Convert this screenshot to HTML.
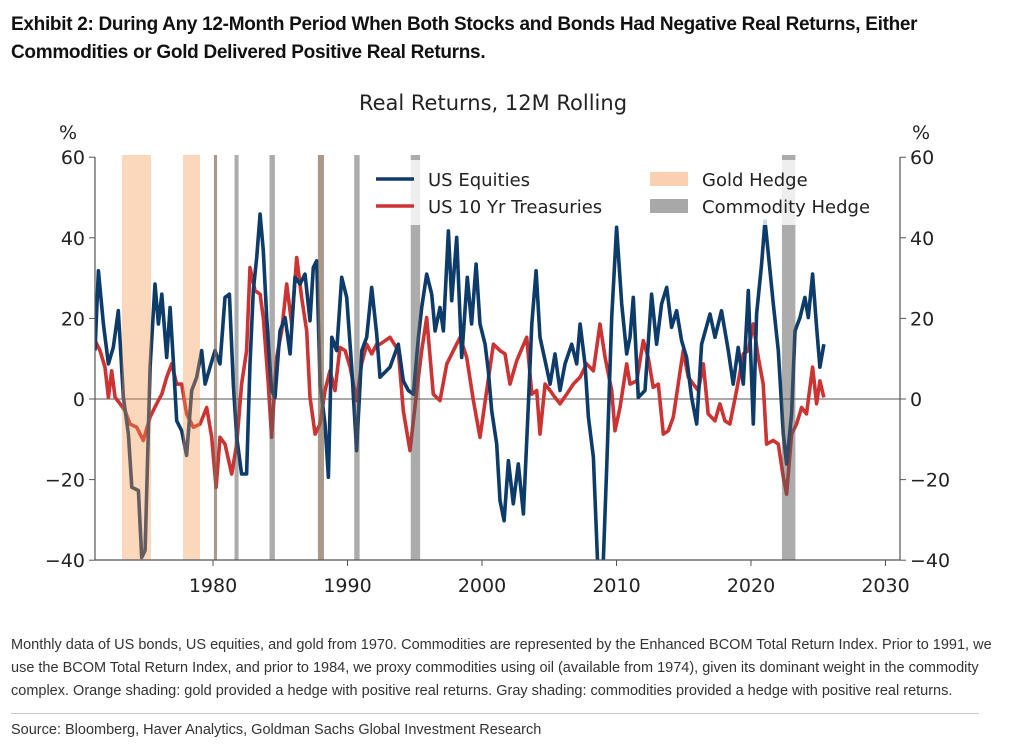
<!DOCTYPE html>
<html><head><meta charset="utf-8"><style>
body{margin:0;background:#fff;width:1010px;height:748px;overflow:hidden;font-family:"Liberation Sans",sans-serif}
.hdr{position:absolute;left:11px;top:11px;font-family:"Liberation Sans Narrow","Liberation Sans",sans-serif;font-weight:bold;font-size:19px;line-height:28px;color:#111;letter-spacing:-0.3px}
.note{position:absolute;left:11px;top:634px;width:990px;font-family:"Liberation Sans Narrow","Liberation Sans",sans-serif;font-size:14.5px;line-height:23px;color:#333}
.src{position:absolute;left:11px;top:722px;font-family:"Liberation Sans Narrow","Liberation Sans",sans-serif;font-size:14.5px;color:#333}
.sep{position:absolute;left:11px;top:713px;width:968px;height:1px;background:#ccc}
svg{position:absolute;left:0;top:0}
svg text{font-family:"DejaVu Sans",sans-serif;fill:#222}
</style></head><body>
<div class="hdr">Exhibit 2: During Any 12-Month Period When Both Stocks and Bonds Had Negative Real Returns, Either<br>Commodities or Gold Delivered Positive Real Returns.</div>
<svg id="chart" width="1010" height="748"></svg>
<div class="note">Monthly data of US bonds, US equities, and gold from 1970. Commodities are represented by the Enhanced BCOM Total Return Index. Prior to 1991, we use the BCOM Total Return Index, and prior to 1984, we proxy commodities using oil (available from 1974), given its dominant weight in the commodity complex. Orange shading: gold provided a hedge with positive real returns. Gray shading: commodities provided a hedge with positive real returns.</div>
<div class="sep"></div>
<div class="src">Source: Bloomberg, Haver Analytics, Goldman Sachs Global Investment Research</div>
<script>
const eqYears=[1971.23,1971.48,1971.85,1972.22,1972.59,1972.96,1973.34,1973.71,1973.96,1974.45,1974.70,1974.95,1975.32,1975.69,1975.94,1976.19,1976.56,1976.81,1977.06,1977.30,1977.67,1978.04,1978.42,1978.79,1979.16,1979.41,1979.78,1980.15,1980.52,1980.89,1981.22,1981.51,1981.76,1982.13,1982.50,1982.75,1983.00,1983.25,1983.50,1983.74,1983.99,1984.36,1984.61,1984.98,1985.36,1985.73,1986.10,1986.47,1986.84,1987.21,1987.46,1987.71,1987.96,1988.33,1988.58,1988.83,1989.20,1989.57,1989.94,1990.31,1990.68,1991.06,1991.43,1991.80,1992.17,
1992.42,1993.16,1993.78,1994.15,1994.53,1994.9,1995.27,1995.52,1995.89,1996.26,1996.51,1996.88,1997.13,1997.5,1997.75,1998.12,1998.49,1998.91,1999.23,1999.56,1999.85,2000.23,2000.47,2000.72,2001.09,2001.34,2001.64,2001.96,2002.33,2002.7,2003.08,2003.45,2003.7,2004.02,2004.31,2004.69,2005.06,2005.43,2005.8,2006.17,2006.67,2007.04,2007.29,2007.66,2007.91,2008.28,2008.65,2008.97,2009.27,2009.64,2010.01,2010.39,2010.76,
2011.0,2011.25,2011.62,2012.12,2012.61,2012.98,2013.35,2013.73,2014.1,2014.47,2014.84,2015.21,2015.58,2015.96,2016.33,2016.95,2017.32,2017.81,2018.31,2018.68,2019.05,2019.43,2019.8,2020.17,2020.42,2020.79,2021.04,2021.41,2021.66,2022.03,2022.4,2022.65,2023.02,2023.27,2023.64,2024.01,2024.26,2024.58,2024.88,2025.12,2025.42];
const eqVals=[12.0,31.8,18.6,8.7,12.8,21.9,0.4,-8.7,-21.9,-22.7,-39.3,-37.6,7.9,28.5,18.6,26.0,10.3,22.7,8.7,-5.4,-7.9,-14.0,2.1,5.4,12.0,3.7,7.9,12,8.7,25.2,26,3.7,-9.5,-18.6,-18.6,8.7,26.9,35.1,45.9,36.8,20.2,2.1,0.4,16.9,20.2,11.2,30.2,28.5,31,19.4,32.6,34.3,3.7,-6.2,-19.4,15.3,12,30.2,25.2,7.9,-12.8,12,15.3,27.7,16.1,
5.4,7.9,13.6,4.5,2.1,1.2,15.3,22.7,31,26,16.9,22.7,16.9,41.7,24.4,40.1,10.3,30.2,18.6,33.5,18.6,13.6,7,-2.9,-11.2,-25.2,-30.2,-15.3,-26,-16.1,-28.5,-1.2,18.6,31.8,15.3,9.5,3.7,11.2,2.1,8.7,13.6,8.7,18.6,8.7,-4.5,-14.5,-45,-45,-17,20.2,42.6,23.6,11.2,
15.3,25.2,0.4,2.1,26,13.6,23.6,27.7,17.8,21.9,14.5,10.3,0.4,-6.2,13.6,21.1,15.3,21.9,12,3.7,12.8,3.7,26.9,-6.2,21.1,33.5,44.2,31.8,23.6,12,-8.7,-16.1,-3.7,16.9,20.2,25.2,20.2,31,17.8,7.9,13.6];
const tsyYears=[1971.23,1971.6,1971.97,1972.22,1972.47,1972.72,1973.09,1973.46,1973.83,1974.33,1974.82,1975.32,1975.81,1976.19,1976.56,1976.93,1977.3,1977.67,1978.04,1978.54,1979.04,1979.53,1979.9,1980.23,1980.52,1980.89,1981.39,1981.76,1982.13,1982.5,1982.75,1983.12,1983.5,1983.74,1984.11,1984.36,1984.73,1985.11,1985.48,1985.85,1986.22,1986.59,1986.97,1987.21,1987.59,1987.96,1988.33,1988.7,1989.07,1989.44,1989.82,1990.19,1990.68,1991.05,1991.43,1991.8,1992.17,
1992.42,1993.16,1993.78,1994.15,1994.65,1995.15,1995.52,1995.89,1996.38,1996.88,1997.38,1997.87,1998.37,1998.86,1999.36,1999.85,2000.35,2000.85,2001.34,2001.71,2002.08,2002.58,2003.32,2003.7,2004.07,2004.31,2004.69,2005.06,2005.43,2005.8,2006.3,2006.79,2007.29,2007.78,2008.28,2008.77,2009.15,2009.64,2009.89,2010.26,2010.76,
2011.0,2011.5,2011.99,2012.36,2012.73,2013.11,2013.48,2013.85,2014.22,2014.59,2014.96,2015.34,2015.71,2016.08,2016.45,2016.82,2017.32,2017.69,2018.06,2018.43,2018.93,2019.43,2019.8,2020.17,2020.54,2020.91,2021.16,2021.66,2022.03,2022.4,2022.65,2023.02,2023.39,2023.76,2024.13,2024.58,2024.88,2025.12,2025.42];
const tsyVals=[14.5,12,7.9,0.4,7,0.4,-1.2,-2.9,-6.2,-7,-10.3,-4.5,-1.2,1.2,5.4,8.7,3.7,3.7,-3.7,-7,-6.2,-2.1,-9.5,-21.9,-9.5,-11.2,-18.6,-11.2,3.7,12,32.6,26.9,26,20.2,3.7,-9.5,10.3,16.9,28.5,18.6,35.1,25.2,16.9,0.4,-8.7,-6.2,2.1,7,2.1,12.8,12,7.9,-0.4,8.7,13.6,11.2,13.6,
13.6,15.3,12,-2.9,-12.8,2.1,12,20.2,1.2,-0.4,8.7,12,15.3,10.3,-0.4,-9.5,2.1,13.6,12,11.2,3.7,9.5,15.3,1.2,2.1,-8.7,3.7,2.1,0.4,-1.2,1.2,3.7,5.4,8.7,7,18.6,10.3,2.1,-7.9,-2.1,8.7,
3.7,4.5,14.5,10.3,2.9,3.7,-8.7,-7.9,-4.5,3.7,12,5.4,3.7,2.1,8.7,-3.7,-5.4,-1.2,-5.4,-6.2,2.1,11.2,12,18.6,10.3,3.7,-11.2,-10.3,-11.2,-19.4,-23.6,-8.7,-6.2,-2.1,-3.7,7.9,-1.2,4.5,0.4];
const goldStart=[1973.23,1977.77,1980.07,1987.8];
const goldEnd=[1975.39,1979.03,1980.3,1988.25];
const commStart=[1980.07,1981.6,1984.2,1987.8,1990.5,1994.7,2022.3];
const commEnd=[1980.3,1981.9,1984.6,1988.25,1990.9,1995.4,2023.3];
const xTicks=[1980,1990,2000,2010,2020,2030];
const yTicks=[-40,-20,0,20,40,60];

const NS='http://www.w3.org/2000/svg';
const svg=document.getElementById('chart');
const L=95,R=900,T=157,B=560;
const x=y=>213+(y-1980)*13.45;
const yv=v=>399-v*4.03;
function mk(tag,at,parent){const e=document.createElementNS(NS,tag);for(const k in at)e.setAttribute(k,at[k]);(parent||svg).appendChild(e);return e;}
const defs=mk('defs',{});const cp=mk('clipPath',{id:'pc'},defs);mk('rect',{x:L,y:T-3,width:R-L,height:B-T+3},cp);
const title=mk('text',{x:493,y:110,'text-anchor':'middle','font-size':21});title.textContent='Real Returns, 12M Rolling';


const pl=mk('text',{x:68,y:139,'text-anchor':'middle','font-size':19});pl.textContent='%';


const pr=mk('text',{x:921,y:139,'text-anchor':'middle','font-size':19});pr.textContent='%';


const zero=mk('line',{x1:L,x2:R,y1:yv(0),y2:yv(0),stroke:'#555','stroke-width':1});


function series(ys,vs,color,name){
  const d=ys.map((yr,i)=>(i?'L':'M')+x(yr).toFixed(1)+','+yv(vs[i]).toFixed(1)).join('');
  const p=mk('path',{d:d,fill:'none',stroke:color,'stroke-width':3.6,'stroke-linejoin':'round','clip-path':'url(#pc)'});
  
  
}
series(tsyYears,tsyVals,'#cc3333','us-10yr-treasuries-line');
series(eqYears,eqVals,'#0d3b6a','us-equities-line');
goldStart.forEach((s,i)=>{const r=mk('rect',{x:x(s),y:T-2,width:x(goldEnd[i])-x(s),height:B-T+2,fill:'rgba(245,150,80,0.38)'});

});
commStart.forEach((s,i)=>{const r=mk('rect',{x:x(s),y:T-2,width:x(commEnd[i])-x(s),height:B-T+2,fill:'rgba(90,90,90,0.5)'});

});
[[L,T,L,B],[R,T,R,B],[L,B,R,B]].forEach(s=>{const l=mk('line',{x1:s[0],y1:s[1],x2:s[2],y2:s[3],stroke:'#555','stroke-width':1.2});

});
xTicks.forEach(t=>{mk('line',{x1:x(t),x2:x(t),y1:B,y2:B+6,stroke:'#555'});
const tx=mk('text',{x:x(t),y:B+32,'text-anchor':'middle','font-size':19});tx.textContent=t;

});
yTicks.forEach(t=>{mk('line',{x1:L-6,x2:L,y1:yv(t),y2:yv(t),stroke:'#555'});mk('line',{x1:R,x2:R+6,y1:yv(t),y2:yv(t),stroke:'#555'});
const lab=t<0?'\u2212'+(-t):String(t);
const a=mk('text',{x:L-10,y:yv(t)+7,'text-anchor':'end','font-size':19});a.textContent=lab;


const b=mk('text',{x:R+10,y:yv(t)+7,'text-anchor':'start','font-size':19});b.textContent=lab;

});
const lg=mk('g',{});


mk('rect',{x:366,y:160,width:526,height:65,fill:'rgba(255,255,255,0.8)'},lg);
const items=[['line','#0d3b6a','US Equities',376,179],['line','#cc3333','US 10 Yr Treasuries',376,206],['patch','rgba(245,150,80,0.45)','Gold Hedge',650,179],['patch','rgba(110,110,110,0.6)','Commodity Hedge',650,206]];
items.forEach(it=>{const g=mk('g',{},lg);


if(it[0]==='line')mk('line',{x1:it[3],x2:it[3]+38,y1:it[4],y2:it[4],stroke:it[1],'stroke-width':3.5},g);
else mk('rect',{x:it[3],y:it[4]-7,width:38,height:14,fill:it[1]},g);
const t=mk('text',{x:it[3]+52,y:it[4]+7,'font-size':18},g);t.textContent=it[2];});
</script>
</body></html>
